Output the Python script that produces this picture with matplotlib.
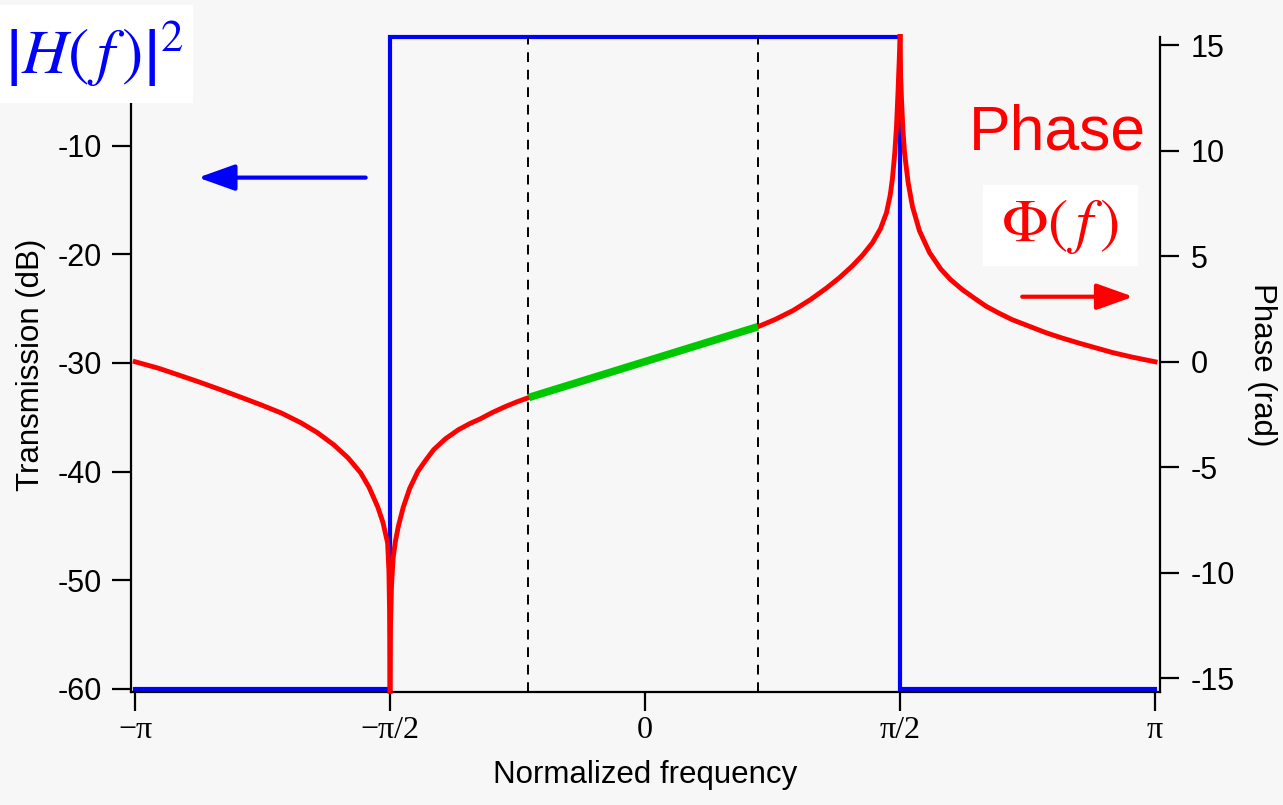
import numpy as np
import matplotlib
matplotlib.use("Agg")
import matplotlib.pyplot as plt
from matplotlib.patches import Rectangle

plt.rcParams['font.family'] = ['Liberation Sans', 'DejaVu Sans']
plt.rcParams['mathtext.fontset'] = 'stix'

# |H(f)|^2 in dB - ideal band pass
freq_mag = [-np.pi, -np.pi / 2, -np.pi / 2, np.pi / 2, np.pi / 2, np.pi]
mag_db = [-60, -60, 0, 0, -60, -60]

# phase, three branches
freq_left = [-3.141, -3.0, -2.876, -2.75, -2.612, -2.49, -2.366, -2.24, -2.12, -2.02, -1.918,
             -1.83, -1.752, -1.70, -1.647, -1.615, -1.586, -1.578, -1.574, -1.571]
phase_left = [0.0, -0.3, -0.62, -0.95, -1.33, -1.68, -2.04, -2.43, -2.89, -3.35, -3.93,
              -4.55, -5.26, -5.95, -6.87, -7.6, -8.58, -9.9, -11.8, -15.6]

freq_mid = [-1.571, -1.568, -1.562, -1.552, -1.538, -1.52, -1.49, -1.45, -1.40, -1.35, -1.303,
            -1.23, -1.15, -1.08, -1.014, -0.94, -0.86, -0.79, -0.715,
            0.695, 0.80, 0.91, 1.02, 1.119, 1.20, 1.278, 1.34, 1.401, 1.45, 1.487, 1.51,
            1.524, 1.538, 1.549, 1.558, 1.565, 1.571]
phase_mid = [-15.6, -12.5, -10.6, -9.3, -8.5, -7.8, -6.9, -6.0, -5.2, -4.65, -4.17,
             -3.65, -3.22, -2.93, -2.7, -2.4, -2.12, -1.9, -1.69,
             1.66, 2.0, 2.42, 2.95, 3.5, 4.0, 4.55, 5.05, 5.64, 6.3, 7.06, 7.9,
             8.7, 9.9, 11.2, 12.8, 14.2, 15.4]

freq_right = [1.571, 1.574, 1.58, 1.588, 1.598, 1.62, 1.647, 1.69, 1.752, 1.82, 1.88, 1.955,
              2.03, 2.102, 2.18, 2.262, 2.37, 2.471, 2.57, 2.674, 2.78, 2.877, 3.0, 3.141]
phase_right = [15.4, 13.5, 12.3, 11.0, 9.9, 8.5, 7.35, 6.2, 5.17, 4.4, 3.9, 3.41,
               3.0, 2.62, 2.3, 1.99, 1.67, 1.37, 1.12, 0.88, 0.65, 0.44, 0.22, 0.0]

# linear part of the phase (green)
freq_lin = [-0.715, 0.695]
phase_lin = [-1.69, 1.66]

band_edges = [-0.72, 0.695]

xticks = [-np.pi, -np.pi / 2, 0, np.pi / 2, np.pi]
xtick_labels = ['\u2212\u03c0', '\u2212\u03c0/2', '0', '\u03c0/2', '\u03c0']
left_ticks = [-60, -50, -40, -30, -20, -10]
right_ticks = [-15, -10, -5, 0, 5, 10, 15]

bg = '#f7f7f7'
W, H = 1283, 805
fig = plt.figure(figsize=(W / 100, H / 100), dpi=100, facecolor=bg)
ax = fig.add_axes([131 / W, 113 / H, 1029 / W, 655 / H])
ax.set_facecolor(bg)
ax2 = ax.twinx()

ax.plot(freq_mag, mag_db, color='#0000ff', lw=3, clip_on=False, solid_joinstyle='miter')
for x in band_edges:
    ax.axvline(x, color='black', lw=1.4, ls=(0, (5, 4)))

red_kw = dict(color='#ff0000', lw=3.5, clip_on=False, solid_joinstyle='round')
ax2.plot(freq_left, phase_left, **red_kw)
ax2.plot(freq_mid, phase_mid, **red_kw)
ax2.plot(freq_right, phase_right, **red_kw)
ax2.plot(freq_lin, phase_lin, color='#00c800', lw=5.5, solid_capstyle='butt')

ax.set_xlim(-np.pi - 0.025, np.pi + 0.03)
ax.set_ylim(-60.28, 0)
ax2.set_ylim(-15.64, 15.38)

ax.set_xticks(xticks)
ax.set_xticklabels(xtick_labels, fontfamily='Liberation Serif', fontsize=23)
ax.set_yticks(left_ticks)
ax.set_yticklabels([str(t) for t in left_ticks], fontsize=22)
ax2.set_yticks(right_ticks)
ax2.set_yticklabels([str(t) for t in right_ticks], fontsize=22)

ax.tick_params(axis='both', direction='out', length=14, width=1.6, pad=7)
ax.tick_params(axis='x', pad=3)
ax2.tick_params(axis='y', direction='out', length=14, width=1.6, pad=8)

for s in ['top', 'right']:
    ax.spines[s].set_visible(False)
for s in ['top', 'left', 'bottom']:
    ax2.spines[s].set_visible(False)
for a in (ax, ax2):
    for s in a.spines.values():
        s.set_linewidth(1.6)

ax.set_xlabel('Normalized frequency', fontsize=22.5, labelpad=11)
ax.set_ylabel('Transmission (dB)', fontsize=22.5, labelpad=8)
ax2.set_ylabel('Phase (rad)', fontsize=22.5, rotation=270, labelpad=30)

# arrows showing which axis goes with which curve
head = '-|>,head_length=0.7,head_width=0.25'
ax.annotate('', xy=(-2.753, -12.94), xytext=(-1.721, -12.94),
            arrowprops=dict(arrowstyle=head, color='#0000ff', lw=3, mutation_scale=32,
                            shrinkA=0, shrinkB=0))
ax2.annotate('', xy=(3.007, 3.08), xytext=(2.323, 3.08),
             arrowprops=dict(arrowstyle=head, color='#ff0000', lw=3, mutation_scale=32,
                             shrinkA=0, shrinkB=0))

# white label boxes
fig.patches.append(Rectangle((0, 1 - 103 / H), 193 / W, 98 / H, transform=fig.transFigure,
                             fc='white', ec='none'))
fig.patches.append(Rectangle((983 / W, 1 - 266 / H), 155 / W, 81 / H, transform=fig.transFigure,
                             fc='white', ec='none'))

fig.text(94 / W, 1 - 54 / H, r'$\left|H(\,f\,)\right|^2$', color='#0000ff', fontsize=46,
         ha='center', va='center')
fig.text(1057 / W, 1 - 133 / H, 'Phase', color='#ff0000', fontsize=45,
         ha='center', va='center')
fig.text(1060 / W, 1 - 226 / H, r'$\Phi(\,f\,)$', color='#ff0000', fontsize=44,
         ha='center', va='center')

fig.savefig('out.png', dpi=100, facecolor=bg)
